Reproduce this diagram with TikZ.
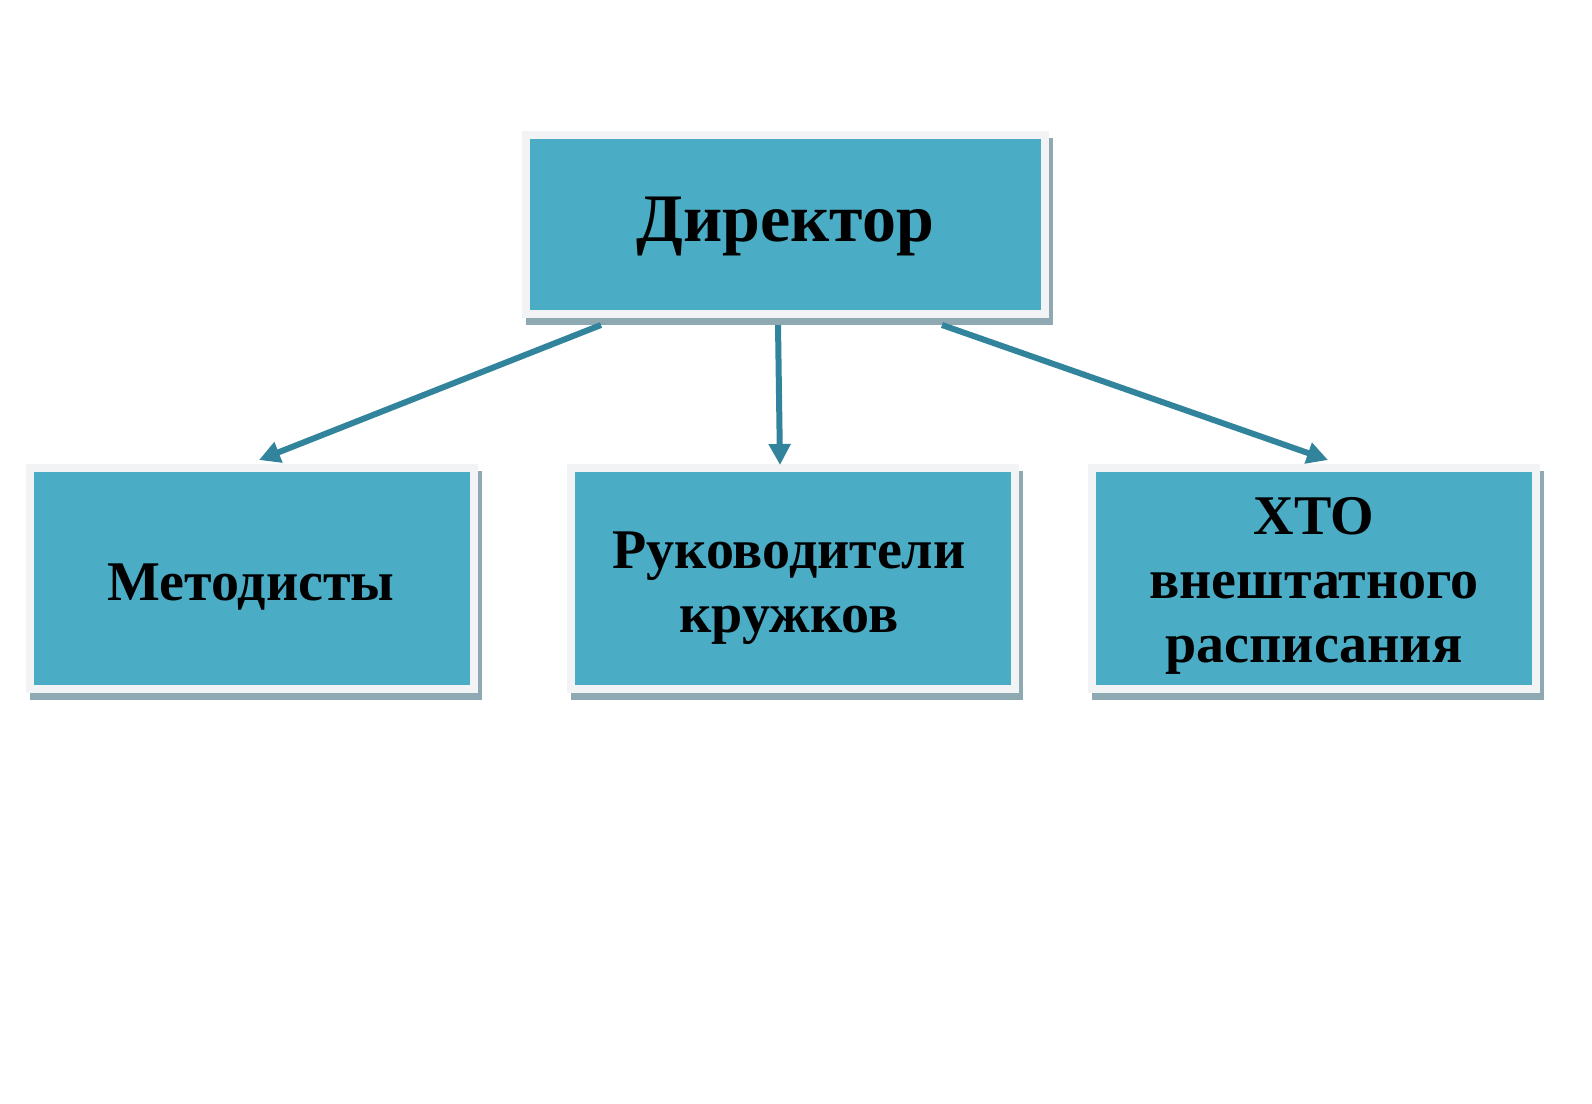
\documentclass[tikz,border=0pt]{standalone}
\usepackage{fontspec}
\setmainfont{Liberation Serif}
\usetikzlibrary{arrows.meta,calc}
\definecolor{boxblue}{HTML}{4BACC6}
\definecolor{framegray}{HTML}{F2F3F4}
\definecolor{shadowc}{HTML}{8FA9B3}
\definecolor{arrowc}{HTML}{31849B}
\tikzset{
  orgbox/.style={rectangle, fill=boxblue, draw=framegray, line width=8pt,
    inner sep=0pt,
    preaction={fill=shadowc, draw=shadowc, transform canvas={xshift=4pt,yshift=-7pt}}},
  topbox/.style={orgbox, minimum width=519pt, minimum height=179pt},
  lowbox/.style={orgbox, minimum width=444pt, minimum height=221pt},
  bigtext/.style={font=\bfseries\fontsize{68}{78}\selectfont, inner sep=0pt, anchor=base},
  smalltext/.style={font=\bfseries\fontsize{56}{64}\selectfont, inner sep=0pt, anchor=base, align=center},
  conn/.style={draw=arrowc, line width=6pt, -{Triangle[length=21pt,width=21pt]}}
}
\begin{document}
\begin{tikzpicture}[x=1pt,y=-1pt]
\useasboundingbox (0,0) rectangle (1592,1103);
\node[topbox] (dir) at (785.5,224.5) {};
\node[lowbox] (b1) at (252,578.5) {};
\node[lowbox] (b2) at (793,578.5) {};
\node[lowbox] (b3) at (1314,578.5) {};
\node[bigtext] (tdir) at ($(dir.center)+(0,16.5)$) {Директор};
\node[smalltext] (t1) at ($(b1.center)+(-1,21.5)$) {Методисты};
\node[smalltext] (t2) at ($(b2.center)+(-4,53.5)$) {Руководители\\кружков};
\node[smalltext] (t3) at ($(b3.center)+(0,83.5)$) {ХТО\\внештатного\\расписания};
\coordinate (s1) at ($(dir.south)+(-184.5,7)$);
\coordinate (s2) at ($(dir.south)+(-7.5,7)$);
\coordinate (s3) at ($(dir.south)+(156.5,7)$);
\coordinate (e1) at ($(b1.north)+(7,-4)$);
\coordinate (e2) at ($(b2.north)+(-13,1)$);
\coordinate (e3) at ($(b3.north)+(14,-4)$);
\draw[conn] (s1) -- (e1);
\draw[conn] (s2) -- (e2);
\draw[conn] (s3) -- (e3);
\end{tikzpicture}
\end{document}
